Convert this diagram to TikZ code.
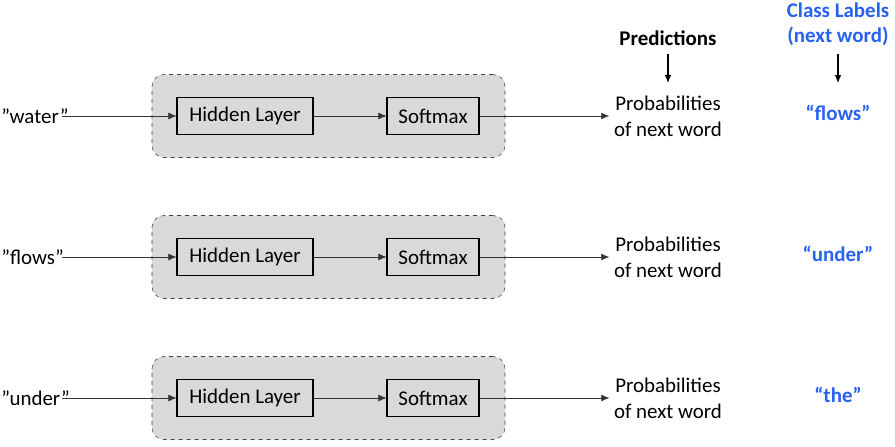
\documentclass[tikz,border=0pt]{standalone}
\usepackage{fontspec}
\setmainfont{Carlito}
\usetikzlibrary{arrows.meta}
\definecolor{labelblue}{RGB}{38,98,240}
\definecolor{boxgray}{RGB}{217,217,217}
\tikzset{
  stagebox/.style={draw=black!75, dashed, thin, fill=boxgray, rounded corners=9pt,
    minimum width=264.75pt, minimum height=62.25pt},
  layerbox/.style={draw, thick, fill=boxgray, minimum height=27.75pt, inner sep=0pt,
    font=\fontsize{15.7}{19}\selectfont},
  flow/.style={draw=black!80, -{Latex[length=6pt,width=5pt]}},
  headarrow/.style={draw, thick, -{Latex[length=6pt,width=5pt]}},
  txt/.style={font=\fontsize{15.7}{19.5}\selectfont, align=center},
  bluetxt/.style={font=\fontsize{15.7}{18.75}\selectfont\bfseries, text=labelblue, align=center}
}
\begin{document}
\begin{tikzpicture}[x=0.75pt,y=-0.75pt]
  \useasboundingbox (0,0) rectangle (895,446);
  % column headings
  \node[txt,font=\fontsize{15.7}{19}\selectfont\bfseries] (Pred) at (668,38) {Predictions};
  \node[bluetxt] (Lab) at (838,24) {Class Labels\\(next word)};
  % three time steps
  \foreach \i/\y/\w/\t in {1/116/water/flows, 2/257/flows/under, 3/398/under/the}{
    \node[stagebox] (F\i) at (328.5,\y) {};
    \node[layerbox, minimum width=102pt] (H\i) at (245,\y) {Hidden Layer};
    \node[layerbox, minimum width=69pt] (S\i) at (433,\y) {Softmax};
    \node[txt, anchor=west, inner sep=0pt] (X\i) at (1,\y) {”\w”};
    \coordinate (I\i) at (62,\y);
    \node[txt] (P\i) at (668,\y) {Probabilities\\of next word};
    \node[bluetxt] (C\i) at (838,\y-3) {“\t”};
    \draw[flow] (I\i) -- (H\i.west);
    \draw[flow] (H\i.east) -- (S\i.west);
    \draw[flow] (S\i.east) -- (P\i.west);
  }
  \draw[headarrow, shorten <=3pt, shorten >=6pt] (Pred.south) -- (P1.north);
  \coordinate (L1) at (838,83);
  \draw[headarrow, shorten <=3pt] (Lab.south) -- (L1);
\end{tikzpicture}
\end{document}
